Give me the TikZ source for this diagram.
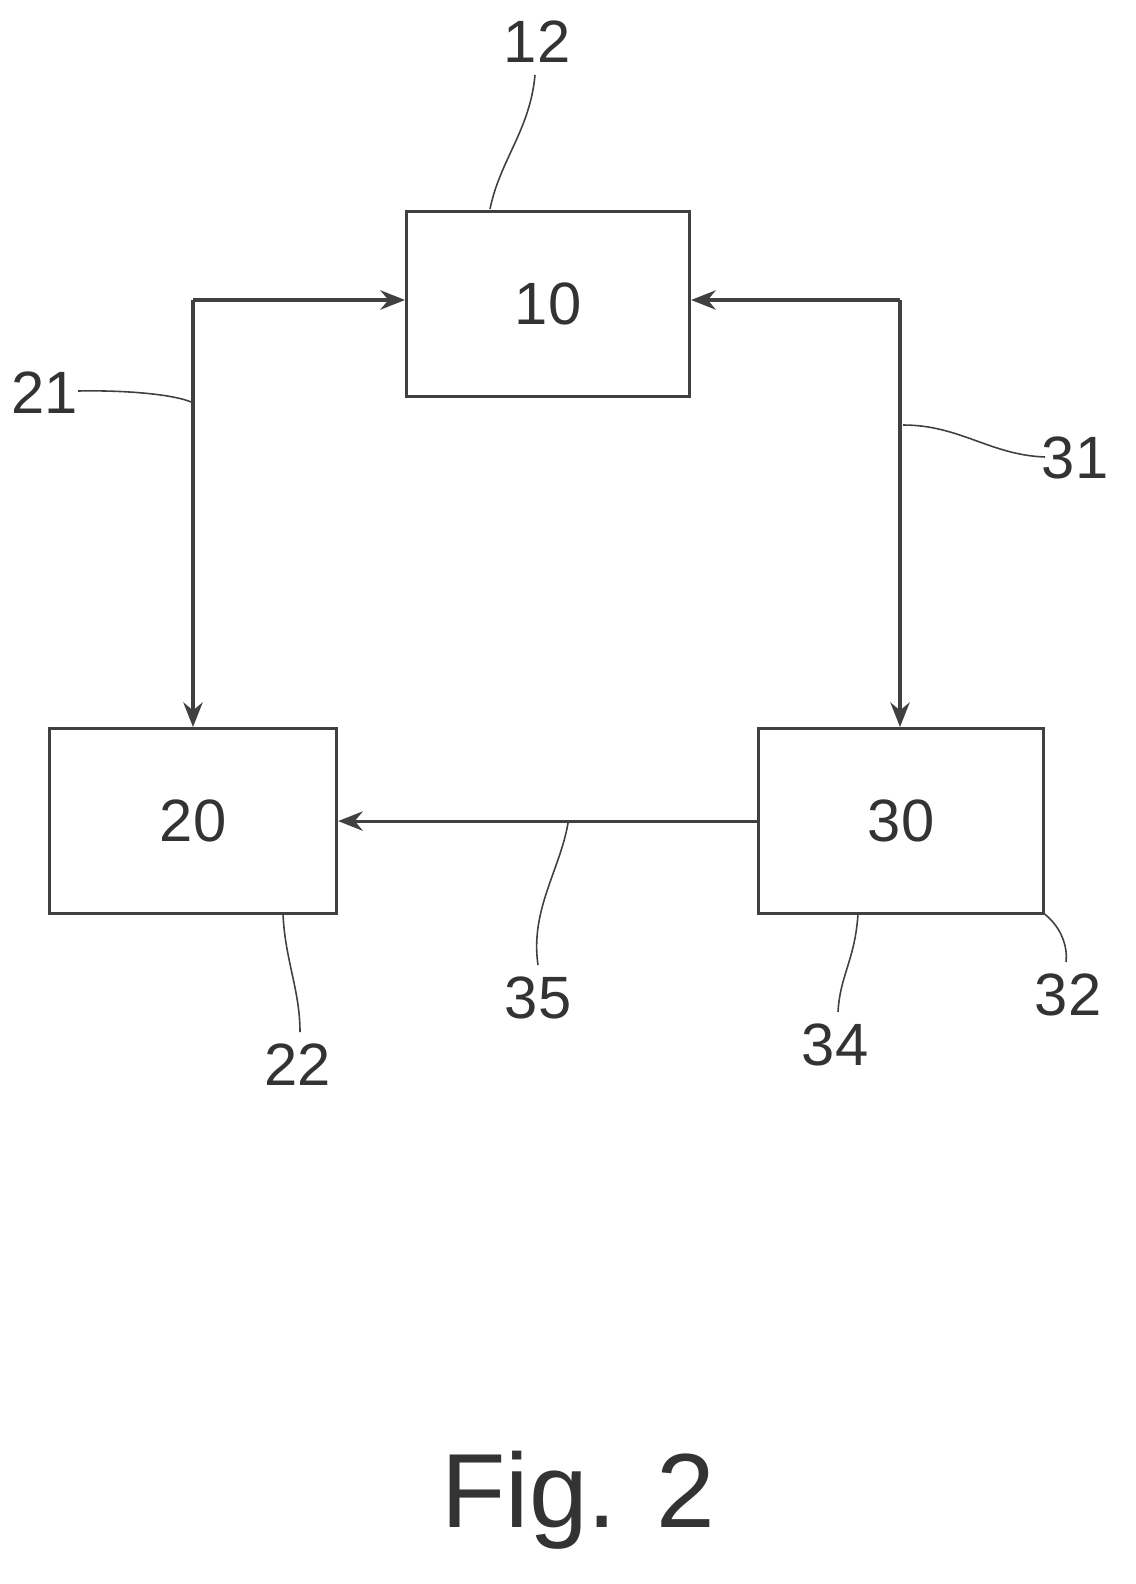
\documentclass[tikz,border=0pt]{standalone}
\usepackage{fontspec}
\setmainfont{Liberation Sans}
\usetikzlibrary{arrows.meta}
\begin{document}
\begin{tikzpicture}[x=0.02cm,y=-0.02cm,
  blk/.style={draw=black!75,line width=1.8pt,minimum width=283*0.02cm,minimum height=185*0.02cm,anchor=north west,font=\fontsize{34}{40}\selectfont,text=black!80},
  conn/.style={draw=black!75,line width=1.8pt,-{Stealth[length=14pt,width=11pt]}},
  lead/.style={draw=black!75,line width=0.9pt},
  lbl/.style={font=\fontsize{34}{40}\selectfont,text=black!80}]
\useasboundingbox (0,0) rectangle (1135,1584);
\node[blk] (b10) at (405,210) {10};
\node[blk,minimum width=287*0.02cm] (b20) at (48,727) {20};
\node[blk,minimum width=285*0.02cm] (b30) at (757,727) {30};
\coordinate (c21) at (193,300);
\coordinate (c31) at (900,300);
\draw[conn] (c21) -- (b10.west|-c21);
\draw[conn] (c21) -- (b20.north-|c21);
\draw[conn] (c31) -- (b10.east|-c31);
\draw[conn] (c31) -- (b30.north-|c31);
\draw[conn] (b30.west) -- (b20.east);
\node[lbl] (l12) at (537,42) {12};
\node[lbl] (l21) at (45,393) {21};
\node[lbl] (l31) at (1075,458) {31};
\node[lbl] (l35) at (538,998) {35};
\node[lbl] (l22) at (298,1065) {22};
\node[lbl] (l34) at (835,1045) {34};
\node[lbl] (l32) at (1068,995) {32};
\draw[lead] (490,209) .. controls (500,160) and (530,130) .. (535,75);
\draw[lead] (78,391) .. controls (130,390) and (175,395) .. (191,402);
\draw[lead] (903,425) .. controls (960,425) and (990,455) .. (1045,457);
\draw[lead] (568,823) .. controls (560,870) and (530,910) .. (538,965);
\draw[lead] (283,914) .. controls (285,960) and (300,990) .. (300,1032);
\draw[lead] (858,914) .. controls (855,960) and (840,975) .. (838,1012);
\draw[lead] (1042,912) .. controls (1060,925) and (1068,945) .. (1066,962);
\node[font=\fontsize{60}{70}\selectfont,text=black!80] (fig) at (578,1500) {Fig. 2};
\end{tikzpicture}
\end{document}
